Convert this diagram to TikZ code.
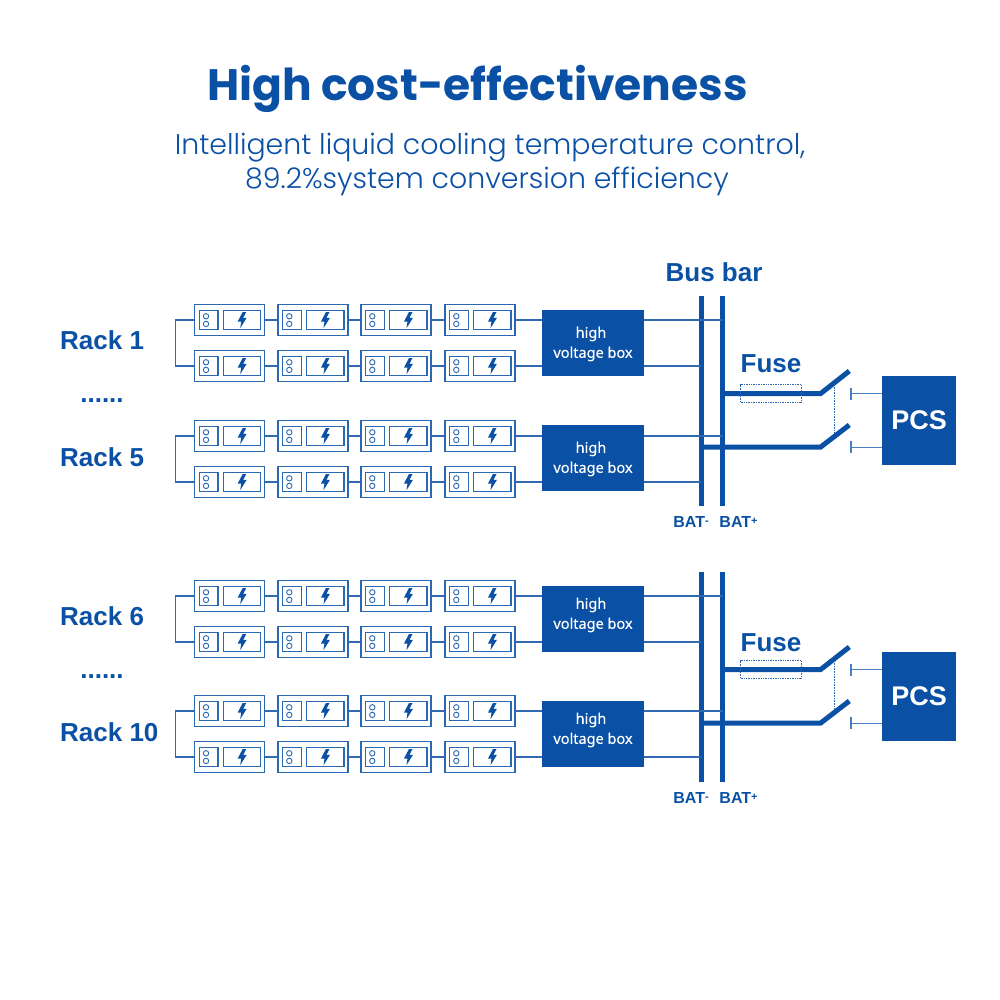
\documentclass[tikz,border=0pt]{standalone}
\usetikzlibrary{calc}
\usepackage{fontspec}
\setmainfont{Liberation Sans}
\newfontfamily\titlef{Poppins}
\newfontfamily\lightf{Poppins Light}
\newfontfamily\boxf[FakeBold=0.3]{Noto Sans}
\definecolor{blu}{HTML}{0A50A5}
\definecolor{lblu}{HTML}{2A68B2}
\tikzset{
 module/.style={draw=lblu,line width=1.3pt,minimum width=70pt,minimum height=30.5pt,inner sep=0pt},
 cellL/.style={draw=lblu,line width=1.3pt,minimum width=18.5pt,minimum height=18.5pt,inner sep=0pt},
 cellR/.style={draw=lblu,line width=1.3pt,minimum width=37.5pt,minimum height=18.5pt,inner sep=0pt},
 dotc/.style={draw=lblu,line width=.9pt,circle,minimum size=5.4pt,inner sep=0pt},
 wire/.style={draw=blu!85!white,line width=1.1pt},
 hv/.style={fill=blu,minimum width=102pt,minimum height=66pt,inner sep=0pt},
 hvtext/.style={font=\boxf\fontsize{14.5}{20}\selectfont,text=white,align=center},
 pcsbox/.style={fill=blu,minimum width=74pt,minimum height=89pt,inner sep=0pt,text=white,font=\bfseries\fontsize{27}{30}\selectfont},
 bus/.style={fill=blu,minimum width=5pt,minimum height=210pt,inner sep=0pt},
 thick wire/.style={draw=blu,line width=5pt,line join=miter},
 lab/.style={text=blu,font=\bfseries\fontsize{26}{30}\selectfont,inner sep=0pt},
 smalllab/.style={text=blu,font=\bfseries\fontsize{16}{18}\selectfont,inner sep=0pt},
 fusebox/.style={draw=lblu,densely dotted,line width=.7pt,minimum width=61pt,minimum height=18pt,inner sep=0pt},
 stub/.style={draw=lblu!85!white,line width=1.3pt},
 linkd/.style={draw=lblu,densely dotted,line width=.6pt},
}
\begin{document}
\begin{tikzpicture}[x=1pt,y=-1pt]
\useasboundingbox (0,0) rectangle (1000,1000);
\node[text=blu,inner sep=0pt,anchor=base,font=\titlef\bfseries\fontsize{44}{50}\selectfont] (title) at (477.5,101) {High cost-effectiveness};
\node[text=blu,inner sep=0pt,anchor=base,font=\lightf\fontsize{28.4}{34}\selectfont] (sub) at (490,155) {Intelligent liquid cooling temperature control,};
\node[text=blu,inner sep=0pt,anchor=base,font=\lightf\fontsize{28.4}{34}\selectfont] (subb) at (487,189) {89.2\%system conversion efficiency};
\node[lab] (busl) at (714,272) {Bus bar};
% racks
\foreach \n/\y in {a/320,b/366,c/436,d/482,e/596,f/642,g/711,h/757}{
 \foreach \c/\x in {1/229.7,2/313,3/396,4/480}{
  \node[module] (m\n\c) at (\x,\y) {};
  \node[cellL] (l\n\c) at (\x-21,\y) {};
  \node[cellR] (r\n\c) at (\x+12.3,\y) {};
  \node[dotc] (p\n\c) at (\x-23.7,\y-3.7) {};
  \node[dotc] (q\n\c) at (\x-23.7,\y+3.9) {};
  \fill[blu] (\x+13,\y-8) -- (\x+8,\y+1.5) -- (\x+11.5,\y+1.5) -- (\x+10.5,\y+8.2) -- (\x+17,\y-2.2) -- (\x+13.5,\y-2.2) -- (\x+16.5,\y-8) -- cycle;
 }
 \draw[wire] (m\n1) -- (m\n2) (m\n2) -- (m\n3) (m\n3) -- (m\n4);
}
% brackets
\foreach \u/\v in {a/b,c/d,e/f,g/h}{
 \coordinate (br\u) at ($(m\u1.west)+(-18.5,0)$);
 \draw[wire] (m\u1.west) -- (br\u) |- (m\v1.west);
}
% high voltage boxes
\foreach \u/\v/\nm/\yy in {a/b/A/343.2,c/d/B/458.2,e/f/C/619.2,g/h/D/734.2}{
 \node[hv] (hv\nm) at (593,\yy) {};
 \draw[wire] (m\u4.east) -- (m\u4.east -| hv\nm.west);
 \draw[wire] (m\v4.east) -- (m\v4.east -| hv\nm.west);
}
\node[hvtext] at (591,334) {high};
\node[hvtext] at (593,354) {voltage box};
\node[hvtext] at (591,449) {high};
\node[hvtext] at (593,469) {voltage box};
\node[hvtext] at (591,605) {high};
\node[hvtext] at (593,625) {voltage box};
\node[hvtext] at (591,720) {high};
\node[hvtext] at (593,740) {voltage box};
% rack labels
\node[lab,anchor=west] (r1) at (60,340) {Rack 1};
\node[lab] (d1) at (102,401) {......};
\node[lab,anchor=west] (r5) at (60,457) {Rack 5};
\node[lab,anchor=west] (r6) at (60,616) {Rack 6};
\node[lab] (d2) at (102,677) {......};
\node[lab,anchor=west] (r10) at (60,732) {Rack 10};
% right-hand parts
\foreach \g/\d/\ua/\ub/\uc/\ud/\hA/\hB/\fy in {x/0/a/b/c/d/A/B/364,y/276/e/f/g/h/C/D/643}{
 \node[bus] (neg\g) at (701,401+\d) {};
 \node[bus] (pos\g) at (722.7,401+\d) {};
 \draw[wire] (m\ua4 -| hv\hA.east) -- (m\ua4 -| pos\g);
 \draw[wire] (m\ub4 -| hv\hA.east) -- (m\ub4 -| neg\g);
 \draw[wire] (m\uc4 -| hv\hB.east) -- (m\uc4 -| pos\g);
 \draw[wire] (m\ud4 -| hv\hB.east) -- (m\ud4 -| neg\g);
 \node[pcsbox] (pcs\g) at (919,420.5+\d) {PCS};
 \coordinate (upk\g) at (820.7,393.5+\d);
 \coordinate (upe\g) at (849.3,371+\d);
 \coordinate (lok\g) at (820.7,447+\d);
 \coordinate (loe\g) at (849.3,425+\d);
 \coordinate (upc\g) at (851,393.7+\d);
 \coordinate (loc\g) at (851,447.3+\d);
 \draw[thick wire] (upk\g -| pos\g) -- (upk\g) -- (upe\g);
 \draw[thick wire] (lok\g -| neg\g) -- (lok\g) -- (loe\g);
 \node[fusebox] (fuse\g) at (771.2,393.7+\d) {};
 \coordinate (da\g) at (834.3,386.7+\d);
 \coordinate (db\g) at (834.3,433+\d);
 \draw[linkd] (da\g) -- (db\g);
 \draw[stub] (upc\g) -- (upc\g -| pcs\g.west);
 \draw[stub] (loc\g) -- (loc\g -| pcs\g.west);
 \draw[stub] ($(upc\g)+(0,-6)$) -- ($(upc\g)+(0,6)$);
 \draw[stub] ($(loc\g)+(0,-6)$) -- ($(loc\g)+(0,6)$);
 \node[lab] (fl\g) at (771,\fy) {Fuse};
 \node[smalllab] (bn\g) at (691,522+\d) {BAT\raisebox{3pt}{\fontsize{11}{11}\selectfont -}};
 \node[smalllab] (bp\g) at (738.5,522+\d) {BAT\raisebox{3pt}{\fontsize{11}{11}\selectfont +}};
}
\end{tikzpicture}
\end{document}
